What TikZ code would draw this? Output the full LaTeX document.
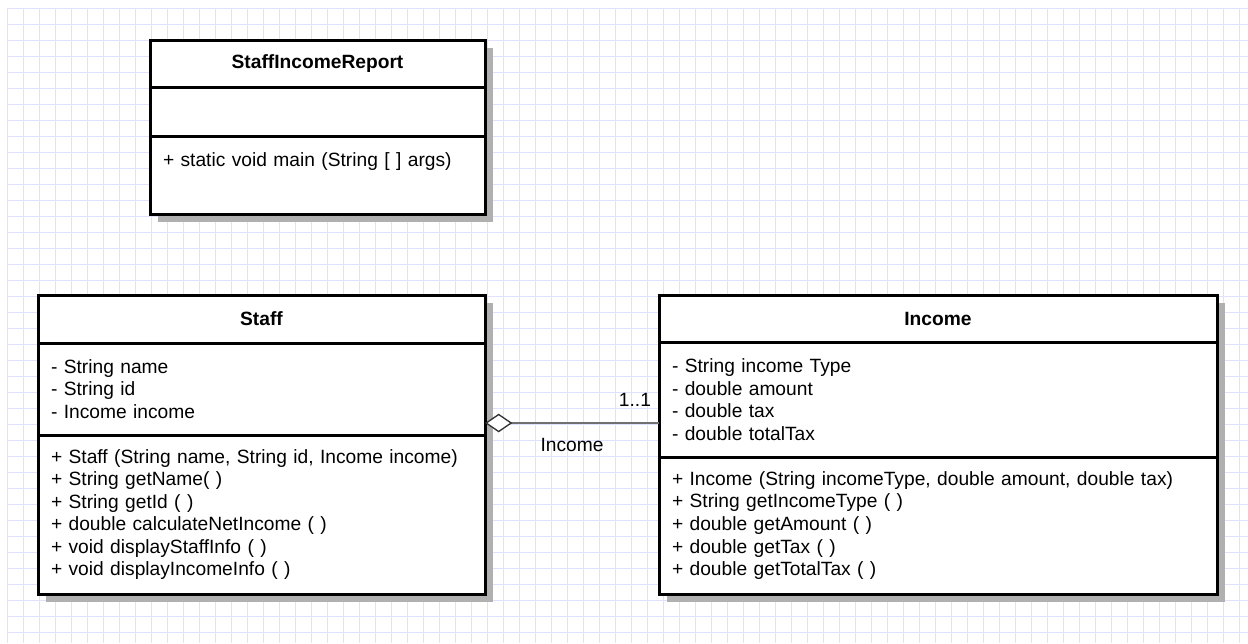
\documentclass[tikz,border=0pt]{standalone}
\usepackage{fontspec}
\setmainfont{Liberation Sans}
\usetikzlibrary{positioning,shadows,arrows.meta}

\definecolor{gridblue}{RGB}{224,224,255}
\definecolor{shadowgray}{RGB}{176,176,176}
\definecolor{assocgray}{RGB}{112,112,112}

\tikzset{
  gridline/.style={draw=gridblue, line width=0.75pt},
  umlpart/.style={draw=black, line width=2.25pt, fill=white, outer sep=0pt,
    inner xsep=9.75pt, inner ysep=0pt, align=left,
    font=\fontsize{14.4}{16.9}\selectfont,
    drop shadow={shadow xshift=6pt, shadow yshift=-6pt, fill=shadowgray, opacity=1}},
  umltitle/.style={umlpart, align=center, font=\fontsize{14.4}{16.9}\selectfont\bfseries},
  aggline/.style={draw=assocgray, line width=1.5pt,
    arrows={Diamond[fill=white, color=black!80, length=20.5pt, width=14pt, line width=1pt]-}},
  assoclabel/.style={inner sep=0pt, font=\fontsize{14.4}{16.9}\selectfont}
}

\begin{document}
\begin{tikzpicture}[x=0.75pt, y=-0.75pt]
  \useasboundingbox (0,0) rectangle (1248,643);
  % grid
  \foreach \gx in {7,23,...,1239}
    \draw[gridline] (\gx,8) -- (\gx,643);
  \foreach \gy in {8,24,...,632}
    \draw[gridline] (7,\gy) -- (1248,\gy);

  % StaffIncomeReport
  \node[umltitle, text width=231.75pt, minimum height=35.25pt, anchor=north west] (reporttitle) at (150,40) {StaffIncomeReport};
  \node[umlpart, text width=231.75pt, minimum height=36.75pt, below=0pt of reporttitle] (reportattr) {};
  \node[umlpart, text width=231.75pt, minimum height=58.5pt, text depth=22.5pt, below=0pt of reportattr] (reportops) {+ static void main (String [ ] args)};

  % Staff
  \node[umltitle, text width=315.75pt, minimum height=36pt, anchor=north west] (stafftitle) at (38,295) {Staff};
  \node[umlpart, text width=315.75pt, minimum height=69pt, below=0pt of stafftitle] (staffattr)
    {- String name\\- String id\\- Income income};
  \node[umlpart, text width=315.75pt, minimum height=119.25pt, below=0pt of staffattr] (staffops)
    {+ Staff (String name, String id, Income income)\\+ String getName( )\\+ String getId ( )\\+ double calculateNetIncome ( )\\+ void displayStaffInfo ( )\\+ void displayIncomeInfo ( )};

  % Income
  \node[umltitle, text width=399pt, minimum height=35.25pt, anchor=north west] (incometitle) at (659,295) {Income};
  \node[umlpart, text width=399pt, minimum height=86.25pt, below=0pt of incometitle] (incomeattr)
    {- String income Type\\- double amount\\- double tax\\- double totalTax};
  \node[umlpart, text width=399pt, minimum height=102.75pt, below=0pt of incomeattr] (incomeops)
    {+ Income (String incomeType, double amount, double tax)\\+ String getIncomeType ( )\\+ double getAmount ( )\\+ double getTax ( )\\+ double getTotalTax ( )};

  % aggregation
  \coordinate (aggfrom) at ([yshift=9pt]staffattr.south east);
  \draw[aggline] (aggfrom) -- node[assoclabel, below=10.5pt] (assocname) {Income}
    (aggfrom -| incomeattr.west) node[assoclabel, anchor=south east, xshift=-5.25pt, yshift=12pt] (multincome) {1..1};
\end{tikzpicture}
\end{document}
